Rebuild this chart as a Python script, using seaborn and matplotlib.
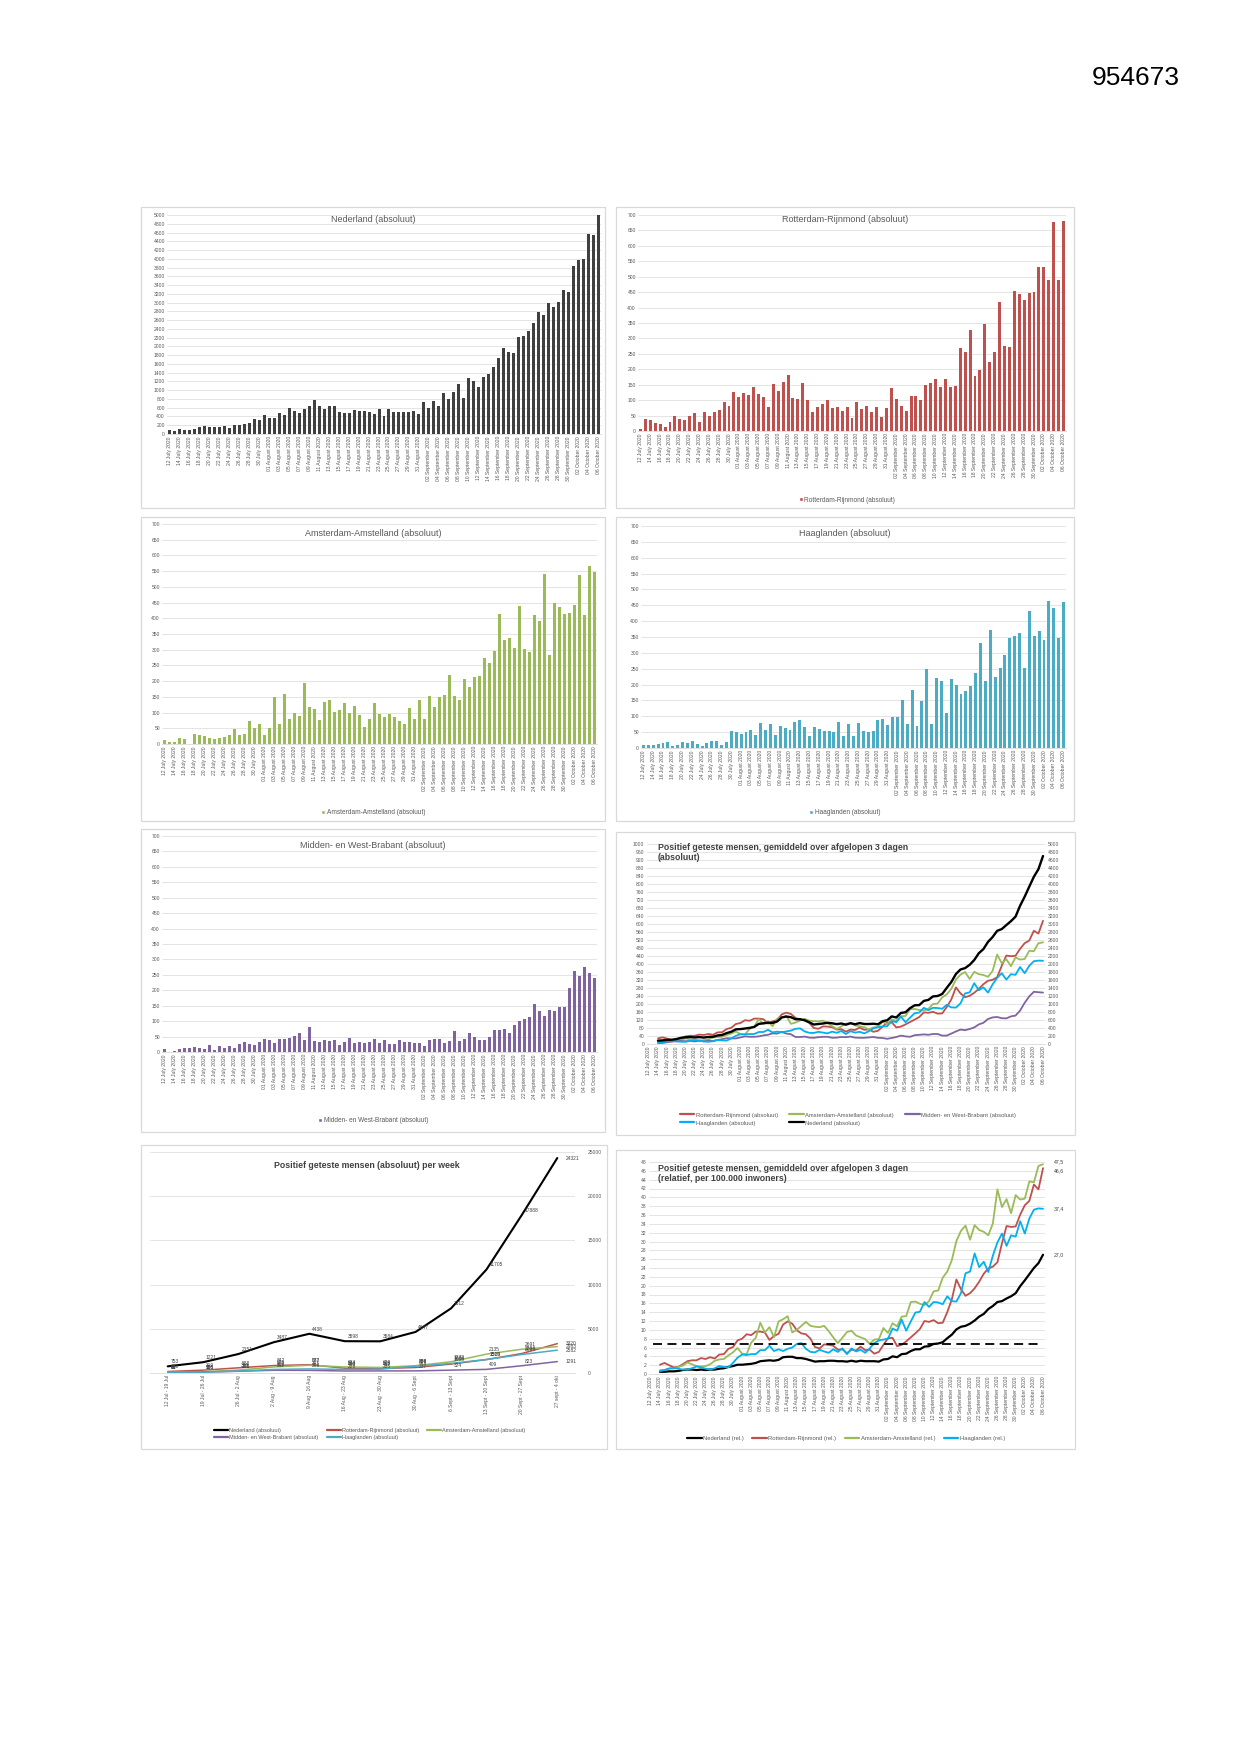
import matplotlib
matplotlib.use("Agg")
import matplotlib.pyplot as plt
from matplotlib.lines import Line2D
from matplotlib.patches import Patch, Rectangle
import numpy as np
import pandas as pd
import seaborn as sns

sns.set_style("white")
plt.rcParams["font.family"] = ["Liberation Sans", "DejaVu Sans"]

# --- data ---------------------------------------------------------------
DAYS = pd.date_range("2020-07-12", "2020-10-06", freq="D")
DAY_LABELS = [d.strftime("%d %B %Y") for d in DAYS]

NL_DAILY = [80, 60, 110, 100, 100, 120, 150, 190, 160, 170, 160, 190, 130, 210, 200, 230, 250, 340, 330, 430,
            360, 370, 480, 430, 600, 520, 480, 580, 630, 780, 650, 580, 630, 650, 500, 480, 480, 540, 520, 530,
            500, 460, 580, 410, 570, 500, 500, 500, 500, 520, 460,
            730, 590, 750, 650, 930, 800, 960, 1140, 820, 1270, 1220, 1080, 1300, 1370, 1540, 1740, 1970, 1880, 1840,
            2220, 2240, 2350, 2530, 2780, 2710, 3000, 2910, 3010, 3290, 3250,
            3830, 3970, 4000, 4570, 4540, 4990]
RR_DAILY = [8, 40, 35, 25, 22, 12, 28, 47, 40, 35, 48, 58, 28, 63, 48, 62, 68, 95, 80, 125,
            110, 122, 117, 143, 120, 110, 77, 153, 130, 160, 181, 108, 103, 155, 100, 63, 78, 87, 100, 73,
            78, 65, 78, 42, 95, 72, 80, 60, 78, 45, 75,
            140, 105, 80, 65, 115, 115, 100, 150, 155, 170, 143, 170, 143, 145, 268, 255, 327, 178, 198,
            347, 223, 257, 417, 275, 272, 455, 445, 425, 447, 450,
            530, 533, 488, 677, 490, 681]
AA_DAILY = [12, 6, 5, 20, 17, 1, 32, 28, 24, 18, 16, 20, 22, 28, 47, 30, 32, 72, 52, 65,
            30, 50, 148, 65, 160, 78, 100, 88, 193, 118, 110, 75, 135, 140, 102, 108, 132, 98, 120, 93,
            53, 80, 130, 97, 87, 95, 85, 72, 63, 115, 78,
            140, 78, 152, 117, 148, 155, 218, 152, 140, 208, 180, 212, 215, 273, 257, 297, 413, 330, 338,
            307, 438, 303, 293, 412, 390, 540, 283, 450, 435, 413,
            418, 443, 538, 410, 565, 548]
HL_DAILY = [10, 8, 10, 13, 17, 18, 5, 10, 18, 16, 22, 13, 5, 15, 23, 22, 10, 18, 55, 50,
            43, 50, 57, 42, 80, 58, 75, 42, 70, 62, 58, 82, 87, 65, 37, 67, 60, 55, 55, 50,
            82, 37, 75, 37, 80, 53, 50, 55, 87, 92, 72,
            97, 97, 152, 77, 182, 68, 147, 248, 75, 220, 212, 110, 218, 200, 170, 180, 195, 235, 330,
            210, 372, 225, 252, 293, 348, 352, 362, 253, 433, 352,
            370, 340, 462, 440, 348, 460]
MWB_DAILY = [10, 0, 4, 10, 12, 13, 17, 14, 10, 22, 7, 20, 12, 20, 13, 27, 32, 27, 24, 33,
             42, 38, 29, 42, 42, 45, 52, 63, 40, 80, 35, 32, 38, 35, 38, 23, 33, 45, 29, 33,
             30, 33, 42, 28, 40, 27, 26, 40, 32, 32, 29,
             29, 21, 40, 43, 43, 29, 36, 68, 35, 41, 61, 49, 40, 38, 48, 70, 71, 75, 62,
             87, 99, 108, 112, 155, 133, 118, 135, 132, 147, 147,
             208, 262, 245, 277, 255, 240]

# 3-day averages, first value is 14 July
NL_AVG3 = [83, 90, 103, 107, 123, 153, 167, 173, 163, 173, 160, 177, 180, 213, 227, 273, 307, 367,
           373, 387, 403, 427, 503, 517, 533, 527, 563, 663, 687, 670, 620, 620, 593, 543, 487, 500,
           513, 530, 517, 497, 513, 483, 520, 493, 523, 500, 500, 507, 493,
           570, 593, 690, 663, 777, 793, 897, 967, 973, 1077, 1103, 1190, 1200, 1250, 1403, 1550, 1750,
           1863, 1897, 1980, 2100, 2270, 2373, 2553, 2673, 2830, 2873, 2973, 3070, 3183,
           3457, 3683, 3933, 4180, 4370, 4700]
RR_AVG3 = [28, 33, 27, 20, 21, 29, 38, 41, 41, 47, 45, 50, 46, 58, 59, 75, 81, 100,
           105, 119, 116, 127, 127, 124, 102, 113, 120, 148, 157, 150, 131, 122, 119, 106, 80, 76,
           88, 87, 84, 72, 74, 62, 72, 70, 82, 71, 73, 61, 66,
           87, 107, 108, 83, 87, 98, 110, 122, 135, 158, 156, 161, 152, 153, 185, 223, 283, 253,
           234, 241, 256, 276, 299, 316, 321, 334, 391, 442, 439, 441,
           476, 504, 517, 566, 552, 616]
AA_AVG3 = [8, 10, 14, 13, 17, 20, 28, 23, 19, 18, 19, 23, 32, 35, 36, 45, 52, 63,
           49, 48, 76, 88, 124, 101, 113, 89, 127, 133, 140, 101, 107, 117, 126, 117, 114, 113,
           117, 104, 89, 75, 88, 102, 105, 93, 89, 84, 73, 83, 85,
           111, 99, 123, 116, 139, 140, 174, 175, 170, 167, 176, 200, 202, 233, 248, 276, 322, 347,
           360, 325, 361, 349, 345, 336, 365, 447, 404, 424, 389, 433,
           422, 425, 466, 464, 504, 508]
HL_AVG3 = [9, 10, 13, 16, 13, 11, 11, 15, 19, 17, 13, 11, 14, 20, 18, 17, 28, 41,
           49, 48, 50, 50, 60, 60, 71, 58, 62, 58, 63, 67, 76, 78, 63, 56, 55, 61,
           57, 53, 62, 56, 65, 50, 64, 57, 61, 53, 64, 78, 84,
           87, 89, 115, 109, 137, 109, 132, 154, 157, 181, 169, 181, 180, 176, 196, 183, 182, 203,
           253, 258, 304, 269, 283, 257, 298, 331, 354, 322, 349, 346,
           385, 354, 391, 414, 417, 416]
MWB_AVG3 = [5, 5, 9, 12, 14, 15, 14, 15, 13, 16, 13, 17, 15, 20, 24, 29, 28, 28,
            33, 38, 36, 36, 38, 43, 46, 53, 52, 61, 52, 49, 35, 35, 37, 32, 31, 34,
            36, 36, 31, 32, 35, 34, 37, 32, 31, 31, 33, 35, 31,
            30, 26, 30, 35, 42, 38, 36, 44, 46, 48, 46, 50, 50, 42, 42, 52, 63, 72,
            69, 75, 83, 98, 106, 125, 133, 135, 129, 128, 138, 142,
            167, 206, 238, 261, 259, 257]

# per 100.000 inwoners, first value is 14 July
NL_REL = [0.5, 0.5, 0.6, 0.6, 0.7, 0.9, 1.0, 1.0, 0.9, 1.0, 0.9, 1.0, 1.0, 1.2, 1.3, 1.6, 1.8, 2.1,
          2.1, 2.2, 2.3, 2.5, 2.9, 3.0, 3.1, 3.0, 3.2, 3.8, 3.9, 3.9, 3.6, 3.6, 3.4, 3.1, 2.8, 2.9,
          2.9, 3.0, 3.0, 2.9, 2.9, 2.8, 3.0, 2.8, 3.0, 2.9, 2.9, 2.9, 2.8,
          3.3, 3.4, 4.0, 3.8, 4.5, 4.6, 5.2, 5.6, 5.6, 6.2, 6.3, 6.8, 6.9, 7.2, 8.1, 8.9, 10.1, 10.7,
          10.9, 11.4, 12.1, 13.0, 13.6, 14.7, 15.4, 16.3, 16.5, 17.1, 17.6, 18.3,
          19.9, 21.2, 22.6, 24.0, 25.1, 27.0]
RR_REL = [2.1, 2.5, 2.0, 1.5, 1.6, 2.2, 2.9, 3.1, 3.1, 3.6, 3.4, 3.8, 3.5, 4.4, 4.5, 5.7, 6.1, 7.6,
          8.0, 9.0, 8.8, 9.6, 9.6, 9.4, 7.7, 8.6, 9.1, 11.2, 11.9, 11.4, 9.9, 9.2, 9.0, 8.0, 6.1, 5.8,
          6.7, 6.6, 6.4, 5.5, 5.6, 4.7, 5.5, 5.3, 6.2, 5.4, 5.5, 4.6, 5.0,
          6.6, 8.1, 8.2, 6.3, 6.6, 7.4, 8.3, 9.2, 10.2, 12.0, 11.8, 12.2, 11.5, 11.6, 14.0, 16.9, 21.4, 19.2,
          17.7, 18.3, 19.4, 20.9, 22.7, 23.9, 24.3, 25.3, 29.6, 33.5, 33.3, 33.4,
          36.1, 38.2, 39.2, 42.9, 41.8, 46.6]
AA_REL = [0.7, 0.9, 1.3, 1.2, 1.6, 1.9, 2.6, 2.2, 1.8, 1.7, 1.8, 2.2, 3.0, 3.3, 3.4, 4.2, 4.9, 5.9,
          4.6, 4.5, 7.1, 8.2, 11.6, 9.4, 10.6, 8.3, 11.9, 12.4, 13.1, 9.4, 10.0, 10.9, 11.8, 10.9, 10.7, 10.6,
          10.9, 9.7, 8.3, 7.0, 8.2, 9.5, 9.8, 8.7, 8.3, 7.9, 6.8, 7.8, 7.9,
          10.4, 9.3, 11.5, 10.8, 13.0, 13.1, 16.3, 16.4, 15.9, 15.6, 16.5, 18.7, 18.9, 21.8, 23.2, 25.8, 30.1, 32.4,
          33.6, 30.4, 33.7, 32.6, 32.2, 31.4, 34.1, 41.8, 37.8, 39.6, 36.4, 40.5,
          39.5, 39.7, 43.6, 43.4, 47.1, 47.5]
HL_REL = [0.8, 0.9, 1.2, 1.4, 1.2, 1.0, 1.0, 1.3, 1.7, 1.5, 1.2, 1.0, 1.3, 1.8, 1.6, 1.5, 2.5, 3.7,
          4.4, 4.3, 4.5, 4.5, 5.4, 5.4, 6.4, 5.2, 5.6, 5.2, 5.7, 6.0, 6.8, 7.0, 5.7, 5.0, 4.9, 5.5,
          5.1, 4.8, 5.6, 5.0, 5.8, 4.5, 5.8, 5.1, 5.5, 4.8, 5.8, 7.0, 7.6,
          7.8, 8.0, 10.3, 9.8, 12.3, 9.8, 11.9, 13.9, 14.1, 16.3, 15.2, 16.3, 16.2, 15.8, 17.6, 16.5, 16.4, 18.3,
          22.8, 23.2, 27.3, 24.2, 25.4, 23.1, 26.8, 29.8, 31.8, 29.0, 31.4, 31.1,
          34.6, 31.8, 35.2, 37.2, 37.5, 37.4]
REL_THRESHOLD = 6.8

WEEK_LABELS = ["12 Jul - 19 Jul", "19 Jul - 26 Jul", "26 Jul - 2 Aug", "2 Aug - 9 Aug",
               "9 Aug - 16 Aug", "16 Aug - 23 Aug", "23 Aug - 30 Aug", "30 Aug - 6 Sept",
               "6 Sept - 13 Sept", "13 Sept - 20 Sept", "20 Sept - 27 Sept", "27 sept - 4 okt"]
NL_WEEK = [753, 1221, 2151, 3487, 4438, 3598, 3584, 4647, 7312, 11705, 17888, 24321]
RR_WEEK = [170, 319, 588, 842, 937, 544, 505, 625, 1008, 1519, 2204, 3320]
AA_WEEK = [93, 156, 328, 689, 873, 684, 629, 828, 1272, 2135, 2691, 2983]
HL_WEEK = [81, 99, 221, 404, 461, 406, 437, 769, 1080, 1528, 2094, 2582]
MWB_WEEK = [66, 105, 198, 311, 298, 226, 235, 237, 324, 409, 823, 1291]

# --- styling ------------------------------------------------------------
C_NL_BAR = "#404040"
C_RR = "#C0504D"
C_AA = "#9BBB59"
C_HL_BAR = "#4BACC6"
C_HL_LINE = "#00B0F0"
C_MWB = "#8064A2"
GRID = "#d9d9d9"
TXT = "#595959"
TICK_FS = 3.6

W, H = 1241, 1754
fig = plt.figure(figsize=(W / 100, H / 100), dpi=100)


def rect(x0, y0, x1, y1):
    return [x0 / W, 1 - y1 / H, (x1 - x0) / W, (y1 - y0) / H]


def fpt(x, y):
    return (x / W, 1 - y / H)


def frame(x0, y0, x1, y1):
    fig.patches.append(Rectangle((x0 / W, 1 - y1 / H), (x1 - x0) / W, (y1 - y0) / H,
                                 transform=fig.transFigure, facecolor="white",
                                 edgecolor=GRID, lw=0.9, zorder=-5))


def style_axes(ax):
    ax.set_facecolor("none")
    for s in ["top", "right", "left"]:
        ax.spines[s].set_visible(False)
    ax.spines["bottom"].set_color(GRID)
    ax.spines["bottom"].set_linewidth(0.6)
    ax.grid(axis="y", color=GRID, lw=0.5)
    ax.grid(axis="x", visible=False)
    ax.set_axisbelow(True)
    ax.tick_params(axis="both", length=0, labelsize=TICK_FS, labelcolor=TXT, pad=1.5)
    ax.set_xlabel("")
    ax.set_ylabel("")


def day_ticks(ax):
    ax.set_xlim(-0.5, len(DAYS) - 0.5)
    ax.set_xticks(range(0, len(DAYS), 2))
    ax.set_xticklabels(DAY_LABELS[::2], rotation=90, fontsize=TICK_FS, color=TXT)


def bar_panel(box, plot, values, color, title, title_xy, ymax, ystep, legend_xy=None):
    frame(*box)
    ax = fig.add_axes(rect(*plot))
    sns.barplot(x=list(range(len(values))), y=values, color=color, saturation=1,
                width=0.6, linewidth=0, antialiased=False, ax=ax)
    style_axes(ax)
    day_ticks(ax)
    ax.set_ylim(0, ymax)
    ax.set_yticks(np.arange(0, ymax + 1, ystep))
    fig.text(*fpt(*title_xy), title, ha="center", va="center", fontsize=6.5, color=TXT)
    if legend_xy is not None:
        fig.legend([Patch(facecolor=color)], [title], loc="center",
                   bbox_to_anchor=fpt(*legend_xy), frameon=False, fontsize=4.7,
                   handlelength=0.6, handleheight=0.6, handletextpad=0.3,
                   labelcolor=TXT)
    return ax


bar_panel((141, 207, 605, 508), (167, 215, 601, 434), NL_DAILY, C_NL_BAR,
          "Nederland (absoluut)", (373, 219), 5000, 200)
bar_panel((616, 207, 1074, 508), (638, 215, 1066, 431), RR_DAILY, C_RR,
          "Rotterdam-Rijnmond (absoluut)", (845, 220), 700, 50, (847, 500))
bar_panel((141, 517, 605, 821), (162, 524, 597, 744), AA_DAILY, C_AA,
          "Amsterdam-Amstelland (absoluut)", (373, 533), 700, 50, (373, 813))
bar_panel((616, 517, 1074, 821), (641, 526, 1066, 748), HL_DAILY, C_HL_BAR,
          "Haaglanden (absoluut)", (845, 533), 700, 50, (845, 813))
bar_panel((141, 829, 605, 1132), (162, 836, 597, 1052), MWB_DAILY, C_MWB,
          "Midden- en West-Brabant (absoluut)", (373, 845), 700, 50, (373, 1121))

AVG_POS = list(range(2, len(DAYS)))

# --- 3-day average, absolute -------------------------------------------
frame(616, 832, 1075, 1135)
ax6 = fig.add_axes(rect(646.5, 844, 1045.3, 1044))
ax6b = ax6.twinx()
for vals, col in [(RR_AVG3, C_RR), (AA_AVG3, C_AA), (MWB_AVG3, C_MWB), (HL_AVG3, C_HL_LINE)]:
    sns.lineplot(x=AVG_POS, y=vals, color=col, lw=1.3, ax=ax6)
sns.lineplot(x=AVG_POS, y=NL_AVG3, color="black", lw=1.7, ax=ax6b)
style_axes(ax6)
ax6b.spines[:].set_visible(False)
ax6b.tick_params(axis="y", length=0, labelsize=TICK_FS, labelcolor=TXT, pad=1.5)
ax6b.set_ylabel("")
day_ticks(ax6)
ax6.set_ylim(0, 1000)
ax6.set_yticks(np.arange(0, 1001, 40))
ax6b.set_ylim(0, 5000)
ax6b.set_yticks(np.arange(0, 5001, 200))
fig.text(*fpt(658, 843), "Positief geteste mensen, gemiddeld over afgelopen 3 dagen\n(absoluut)",
         ha="left", va="top", fontsize=6.3, fontweight="bold", color="#404040", linespacing=1.1)
h6 = [Line2D([], [], color=C_RR, lw=1.6), Line2D([], [], color=C_HL_LINE, lw=1.6),
      Line2D([], [], color=C_AA, lw=1.6), Line2D([], [], color="black", lw=1.6),
      Line2D([], [], color=C_MWB, lw=1.6)]
l6 = ["Rotterdam-Rijnmond (absoluut)", "Haaglanden (absoluut)",
      "Amsterdam-Amstelland (absoluut)", "Nederland (absoluut)",
      "Midden- en West-Brabant (absoluut)"]
fig.legend(h6, l6, loc="center", bbox_to_anchor=fpt(848, 1119), ncol=3, frameon=False,
           fontsize=4.2, handlelength=2.5, handletextpad=0.2, columnspacing=2.0,
           labelspacing=0.5, labelcolor=TXT)

# --- weekly totals -----------------------------------------------------
frame(141, 1145, 607, 1449)
ax7 = fig.add_axes(rect(150, 1152, 575, 1373))
WEEK_POS = list(range(len(WEEK_LABELS)))
week_series = [(NL_WEEK, "black", 1.5), (RR_WEEK, C_RR, 1.1), (AA_WEEK, C_AA, 1.1),
               (MWB_WEEK, C_MWB, 1.1), (HL_WEEK, C_HL_BAR, 1.1)]
for vals, col, lw in week_series:
    sns.lineplot(x=WEEK_POS, y=vals, color=col, lw=lw, ax=ax7)
    for i, v in enumerate(vals):
        last = i == len(vals) - 1
        ax7.annotate(f"{v}", (i, v), xytext=(6 if last else 2, 0 if last else 1.5),
                     textcoords="offset points", fontsize=3.5, color="#404040",
                     va="center" if last else "bottom")
style_axes(ax7)
ax7.yaxis.tick_right()
ax7.set_xlim(-0.5, len(WEEK_LABELS) - 0.5)
ax7.set_ylim(0, 25000)
ax7.set_yticks(np.arange(0, 25001, 5000))
ax7.tick_params(axis="y", pad=9)
ax7.set_xticks(WEEK_POS)
ax7.set_xticklabels(WEEK_LABELS, rotation=90, fontsize=TICK_FS, color=TXT)
fig.text(*fpt(367, 1166), "Positief geteste mensen (absoluut) per week", ha="center",
         va="center", fontsize=6.3, fontweight="bold", color="#404040")
h7 = [Line2D([], [], color="black", lw=1.6), Line2D([], [], color=C_MWB, lw=1.6),
      Line2D([], [], color=C_RR, lw=1.6), Line2D([], [], color=C_HL_BAR, lw=1.6),
      Line2D([], [], color=C_AA, lw=1.6)]
l7 = ["Nederland (absoluut)", "Midden- en West-Brabant (absoluut)",
      "Rotterdam-Rijnmond (absoluut)", "Haaglanden (absoluut)",
      "Amsterdam-Amstelland (absoluut)"]
fig.legend(h7, l7, loc="center", bbox_to_anchor=fpt(370, 1434), ncol=3, frameon=False,
           fontsize=4.0, handlelength=2.5, handletextpad=0.2, columnspacing=1.5,
           labelspacing=0.5, labelcolor=TXT)

# --- 3-day average, relative ---------------------------------------------
frame(616, 1150, 1075, 1449)
ax8 = fig.add_axes(rect(648.6, 1162, 1045.3, 1374))
rel_series = [(NL_REL, "black", 1.6, 0), (RR_REL, C_RR, 1.3, -2),
              (AA_REL, C_AA, 1.3, 2), (HL_REL, C_HL_LINE, 1.3, 0)]
for vals, col, lw, dy in rel_series:
    sns.lineplot(x=AVG_POS, y=vals, color=col, lw=lw, ax=ax8)
    ax8.annotate(f"{vals[-1]:.1f}".replace(".", ","), (AVG_POS[-1], vals[-1]),
                 xytext=(8, dy), textcoords="offset points", fontsize=3.8,
                 color="#404040", va="center")
ax8.axhline(REL_THRESHOLD, color="black", lw=1.3, ls=(0, (5, 3)), xmin=0.01, xmax=0.99)
style_axes(ax8)
day_ticks(ax8)
ax8.set_ylim(0, 48)
ax8.set_yticks(np.arange(0, 49, 2))
fig.text(*fpt(658, 1164), "Positief geteste mensen, gemiddeld over afgelopen 3 dagen\n(relatief, per 100.000 inwoners)",
         ha="left", va="top", fontsize=6.3, fontweight="bold", color="#404040", linespacing=1.1)
h8 = [Line2D([], [], color=c, lw=1.6) for c in ["black", C_RR, C_AA, C_HL_LINE]]
l8 = ["Nederland (rel.)", "Rotterdam-Rijnmond (rel.)", "Amsterdam-Amstelland (rel.)",
      "Haaglanden (rel.)"]
fig.legend(h8, l8, loc="center", bbox_to_anchor=fpt(846, 1438), ncol=4, frameon=False,
           fontsize=4.2, handlelength=2.5, handletextpad=0.2, columnspacing=1.5,
           labelcolor=TXT)

fig.text(1180 / W, 1 - 85 / H, "954673", ha="right", va="baseline", fontsize=19,
         color="black")

fig.savefig("out.png", dpi=100)
